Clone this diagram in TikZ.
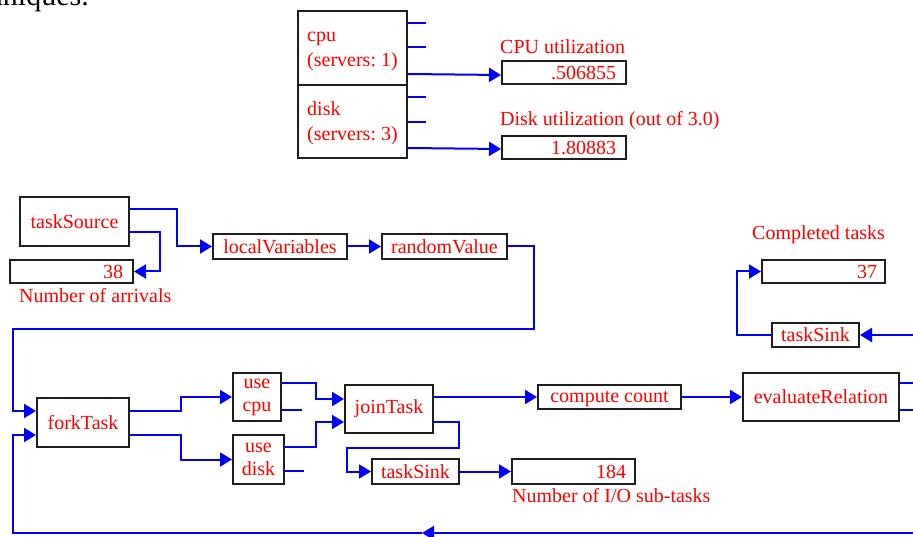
\documentclass[tikz,border=0pt]{standalone}
\usepackage{fontspec}
\setmainfont{Liberation Serif}
\usetikzlibrary{arrows.meta,calc}
\definecolor{wireblue}{RGB}{0,0,255}
\definecolor{txtred}{RGB}{255,0,0}
\definecolor{boxline}{RGB}{30,30,30}
\frenchspacing
\begin{document}
\begin{tikzpicture}[x=1pt,y=-1pt,
  font=\fontsize{20}{25}\selectfont\frenchspacing,
  box/.style={draw=boxline, line width=2pt, fill=white, inner sep=0pt, text=txtred, align=center},
  valbox/.style={box, minimum height=23pt, align=right},
  wire/.style={draw=wireblue, line width=2pt},
  arr/.style={wire, -{Triangle[length=12pt,width=14pt]}},
  lbl/.style={text=txtred, inner sep=0pt, anchor=base west}]
\useasboundingbox (0,0) rectangle (913,537);

% partial running text of the page
\node[anchor=base east, inner sep=0pt, text=black, font=\fontsize{30}{34}\selectfont] (title) at (89,6) {techniques.};

% resources
\node[box, minimum width=109pt, minimum height=74pt] (cpu) at (352.5,48) {};
\node[box, minimum width=109pt, minimum height=73pt] (disk) at (352.5,121.5) {};
\node[lbl] (cpuname) at ($(cpu.north west)+(10,32)$) {cpu};
\node[lbl] (cpusrv) at ($(cpu.north west)+(10,57)$) {(servers: 1)};
\node[lbl] (diskname) at ($(disk.north west)+(10,32)$) {disk};
\node[lbl] (disksrv) at ($(disk.north west)+(10,57)$) {(servers: 3)};
\node[valbox, minimum width=124pt, text width=104pt] (cpuval) at (564,72.5) {.506855};
\node[valbox, minimum width=124pt, text width=104pt] (diskval) at (564,147.5) {1.80883};
\node[lbl] (cpulbl) at ($(cpuval.north west)+(-1,-6)$) {CPU utilization};
\node[lbl] (disklbl) at ($(diskval.north west)+(-1,-9)$) {Disk utilization (out of 3.0)};

% source chain
\node[box, minimum width=109pt, minimum height=49pt] (tsrc) at (74.5,221.5) {taskSource};
\node[valbox, minimum width=123pt, text width=103pt] (arrivals) at (71.5,271.5) {38};
\node[lbl] (arrlbl) at (19,303) {Number of arrivals};
\node[box, minimum width=134pt, minimum height=25pt] (locvar) at (280,246.5) {localVariables};
\node[box, minimum width=125pt, minimum height=25pt] (randval) at (444.5,246.5) {randomValue};

% completed tasks
\node[valbox, minimum width=123pt, text width=107pt] (done) at (823.5,271.5) {37};
\node[lbl] (donelbl) at (752,240) {Completed tasks};
\node[box, minimum width=87pt, minimum height=24pt] (sinkB) at (815.5,335) {taskSink};

% fork / join
\node[box, minimum width=92pt, minimum height=49pt] (fork) at (83,422.5) {forkTask};
\node[box, minimum width=48pt, minimum height=48pt, font=\fontsize{20}{23}\selectfont] (ucpu) at (257,397) {use\\cpu};
\node[box, minimum width=51pt, minimum height=49pt, font=\fontsize{20}{23}\selectfont] (udisk) at (258.5,459.5) {use\\disk};
\node[box, minimum width=88pt, minimum height=48pt] (join) at (389,409) {joinTask};
\node[box, minimum width=143pt, minimum height=24pt, text height=14pt, text depth=3pt] (compute) at (609.5,397) {compute count};
\node[box, minimum width=156pt, minimum height=48pt] (evalrel) at (821,397) {evaluateRelation};
\node[box, minimum width=87pt, minimum height=25pt] (sinkA) at (415.5,471.5) {taskSink};
\node[valbox, minimum width=123pt, minimum height=25pt, text width=105pt] (ioval) at (573.5,471.5) {184};
\node[lbl] (iolbl) at (512,502) {Number of I/O sub-tasks};

\coordinate (retR) at (916,533);
\coordinate (retTip) at (422,533);
\coordinate (retL) at (13,533);

% resource connectors
\draw[wire] ($(cpu.north east)+(0,13)$) -- ++(18,0);
\draw[wire] ($(cpu.north east)+(0,37)$) -- ++(18,0);
\draw[arr] ($(cpu.north east)+(0,64)$) -- ($(cpuval.west)+(0,2.5)$);
\draw[wire] ($(disk.north east)+(0,13)$) -- ++(18,0);
\draw[wire] ($(disk.north east)+(0,38)$) -- ++(18,0);
\draw[arr] ($(disk.north east)+(0,64)$) -- ($(diskval.west)+(0,1.5)$);

% source chain connectors
\draw[arr] ($(tsrc.north east)+(0,13)$) -- ++(47,0) |- (locvar.west);
\draw[arr] ($(tsrc.north east)+(0,36)$) -- ++(30,0) |- (arrivals.east);
\draw[arr] (locvar) -- (randval);
\draw[arr] (randval.east) -- ++(26,0) -- ++(0,82.5) -| ($(retL |- fork.west)+(0,-11.5)$) -- ($(fork.west)+(0,-11.5)$);

% return loop
\draw[arr] (retR) -- (retTip);
\draw[arr] (retTip) -- (retL) |- ($(fork.west)+(0,12.5)$);

% fork outputs
\draw[arr] ($(fork.east)+(0,-11.5)$) -- ++(51,0) |- (ucpu.west);
\draw[arr] ($(fork.east)+(0,12.5)$) -- ++(51,0) |- (udisk.west);

% use outputs
\draw[arr] ($(ucpu.north east)+(0,11)$) -| ($(join.west)+(-28,-10)$) -- ($(join.west)+(0,-10)$);
\draw[wire] ($(ucpu.north east)+(0,38)$) -- ++(20,0);
\draw[arr] ($(udisk.north east)+(0,13)$) -| ($(join.west)+(-28,13)$) -- ($(join.west)+(0,13)$);
\draw[wire] ($(udisk.north east)+(0,37)$) -- ++(19,0);

% join outputs
\draw[arr] (join.east |- compute.west) -- (compute.west);
\draw[arr] ($(join.east)+(0,13)$) -- ++(25,0) -- ++(0,26) -| ($(sinkA.west)+(-24,0)$) -- (sinkA.west);
\draw[arr] (sinkA) -- (ioval);
\draw[arr] (compute) -- (evalrel);
\draw[wire] ($(evalrel.north east)+(0,11)$) -- ++(20,0);
\draw[wire] ($(evalrel.north east)+(0,38)$) -- ++(20,0);

% completed tasks
\draw[arr] ($(sinkB.east)+(60,0)$) -- (sinkB.east);
\draw[arr] (sinkB.west) -- ++(-34,0) |- (done.west);
\end{tikzpicture}
\end{document}
